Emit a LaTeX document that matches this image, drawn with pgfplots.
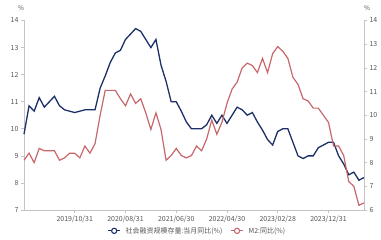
\documentclass[border=0pt]{standalone}
\usepackage{pgfplots}
\pgfplotsset{compat=1.18}
\usepackage{fontspec}
\setmainfont{Noto Sans CJK SC}
\definecolor{navy}{HTML}{1C2F66}
\definecolor{rosered}{HTML}{C8676B}
\definecolor{axgray}{HTML}{C4C4C4}
\definecolor{txtgray}{HTML}{555555}
\begin{document}
\begin{tikzpicture}
\pgfplotsset{
  common/.style={
    scale only axis, width=340bp, height=189.5bp,
    xmin=0, xmax=67,
    font=\fontsize{7}{8}\selectfont,
    tick label style={text=txtgray, font=\fontsize{7}{8}\selectfont},
    /pgf/number format/assume math mode=true,
    axis line style={axgray, line width=0.6bp},
    tick style={axgray, line width=0.6bp},
    major tick length=3bp,
    tick align=outside,
    clip=false,
  }
}
\path[use as bounding box] (-24bp,-30bp) rectangle (357bp,210bp);
\begin{axis}[common,
  axis y line*=left, axis x line*=bottom,
  ymin=7, ymax=14, ytick={7,8,...,14},
  xtick={10,20,30,40,50,60},
  xticklabels={2019/10/31,2020/08/31,2021/06/30,2022/04/30,2023/02/28,2023/12/31},
  xticklabel style={yshift=1bp},
  yticklabel style={xshift=1bp},
]
\addplot[navy, line width=1.3bp, no marks] coordinates {
(0,9.8)(1,10.85)(2,10.65)(3,11.15)(4,10.8)(5,11.0)(6,11.2)(7,10.85)(8,10.7)(9,10.65)
(10,10.6)(11,10.65)(12,10.7)(13,10.7)(14,10.7)(15,11.5)(16,11.95)(17,12.45)(18,12.8)(19,12.9)
(20,13.3)(21,13.5)(22,13.7)(23,13.6)(24,13.3)(25,13.0)(26,13.3)(27,12.35)(28,11.75)(29,11.0)
(30,11.0)(31,10.65)(32,10.25)(33,10.0)(34,10.0)(35,10.0)(36,10.15)(37,10.5)(38,10.2)(39,10.5)
(40,10.2)(41,10.5)(42,10.8)(43,10.7)(44,10.5)(45,10.6)(46,10.25)(47,9.95)(48,9.6)(49,9.4)
(50,9.9)(51,10.0)(52,10.0)(53,9.5)(54,9.0)(55,8.9)(56,9.0)(57,9.0)(58,9.3)(59,9.4)
(60,9.5)(61,9.5)(62,9.0)(63,8.7)(64,8.3)(65,8.4)(66,8.1)(67,8.2)
};
\node[text=txtgray, font=\fontsize{6.5}{7}\selectfont] at ([xshift=-3bp,yshift=12bp]rel axis cs:0,1) {\%};
\end{axis}
\begin{axis}[common,
  axis y line*=right, axis x line=none,
  ymin=6, ymax=14, ytick={6,7,...,14},
  yticklabel style={xshift=-1bp},
  legend style={at={(0.51,-0.11)}, anchor=center, draw=none, fill=none,
    font=\fontsize{7}{8}\selectfont, text=txtgray,
    legend columns=2, column sep=3bp, inner sep=0pt,
    /tikz/every even column/.append style={column sep=6bp}},
  legend image code/.code={
    \draw[#1, line width=1.1bp] (0bp,0bp) -- (12bp,0bp);
    \draw[#1, line width=1.1bp, fill=white] (6bp,0bp) circle (2.6bp);
  },
]
\addlegendimage{navy}
\addlegendentry{社会融资规模存量:当月同比(\%)}
\addplot[rosered, line width=1.2bp, no marks] coordinates {
(0,8.1)(1,8.4)(2,8.0)(3,8.6)(4,8.5)(5,8.5)(6,8.5)(7,8.1)(8,8.2)(9,8.4)
(10,8.4)(11,8.2)(12,8.7)(13,8.4)(14,8.8)(15,10.0)(16,11.05)(17,11.05)(18,11.05)(19,10.7)
(20,10.4)(21,10.9)(22,10.5)(23,10.7)(24,10.1)(25,9.4)(26,10.1)(27,9.4)(28,8.1)(29,8.3)
(30,8.6)(31,8.3)(32,8.2)(33,8.3)(34,8.7)(35,8.5)(36,9.0)(37,9.8)(38,9.2)(39,9.7)
(40,10.5)(41,11.1)(42,11.4)(43,12.0)(44,12.2)(45,12.1)(46,11.8)(47,12.4)(48,11.8)(49,12.6)
(50,12.9)(51,12.7)(52,12.4)(53,11.6)(54,11.3)(55,10.7)(56,10.6)(57,10.3)(58,10.3)(59,10.0)
(60,9.7)(61,8.7)(62,8.7)(63,8.3)(64,7.2)(65,7.0)(66,6.2)(67,6.3)
};
\addlegendentry{M2:同比(\%)}
\node[text=txtgray, font=\fontsize{6.5}{7}\selectfont] at ([xshift=3bp,yshift=12bp]rel axis cs:1,1) {\%};
\end{axis}
\end{tikzpicture}
\end{document}
